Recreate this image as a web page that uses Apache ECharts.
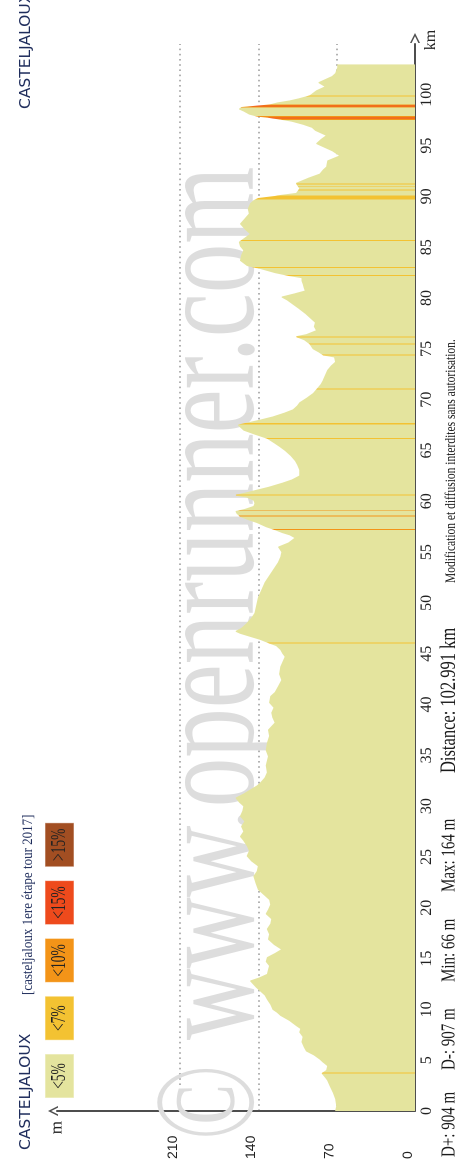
<!DOCTYPE html>
<html><head><meta charset="utf-8">
<script src="https://cdn.jsdelivr.net/npm/echarts@6/dist/echarts.min.js"></script>
<style>
html,body{margin:0;padding:0;background:#fff;overflow:hidden;width:471px;height:1162px;}
#wrap{position:absolute;left:0;top:0;width:1162px;height:471px;transform-origin:0 0;transform:translate(0,1162px) rotate(-90deg);}
#chart{width:1162px;height:471px;}
</style></head><body>
<div id="wrap"><div id="chart"></div></div>
<script>
// ---- data ----
const profileKm = [0,0.5,1.2,1.8,2.5,3.0,3.3,3.7,4.0,4.45,4.8,5.1,5.5,5.9,6.3,6.8,7.3,7.75,8.1,8.4,8.9,9.4,9.7,10.0,10.5,11.0,11.4,11.7,12.2,12.8,13.1,13.45,13.9,14.3,14.7,15.1,15.5,15.9,16.4,16.9,17.4,17.9,18.4,18.9,19.4,19.8,20.3,20.8,21.3,21.8,22.4,23.1,23.6,24.1,24.6,25.1,25.6,26.1,26.6,27.0,27.5,28.0,28.5,29.0,29.5,30.0,30.4,30.8,31.2,31.6,32.0,32.3,32.8,33.3,34.0,34.9,35.5,36.2,36.9,37.5,38.2,38.7,39.2,39.7,40.2,40.8,41.2,41.8,42.4,43.0,43.7,44.2,44.7,45.0,45.4,45.8,46.0,46.4,46.7,47.0,47.2,47.5,48.0,48.5,49.0,49.5,50.0,50.5,51.0,51.5,52.0,52.5,53.0,53.5,54.0,54.5,55.0,55.5,55.9,56.4,56.7,56.9,57.2,57.5,57.9,58.2,58.5,58.8,59.0,59.2,59.5,59.8,60.1,60.4,60.6,60.8,61.1,61.4,61.8,62.1,62.5,63.1,63.6,64.0,64.5,65.0,65.4,65.7,66.2,66.6,67.0,67.5,67.7,68.0,68.3,68.7,69.0,69.4,69.7,70.2,70.6,71.1,71.5,71.9,72.4,72.9,73.3,73.7,74.2,74.4,74.7,75.0,75.5,75.9,76.2,76.4,76.8,77.2,77.6,78.0,78.5,79.0,79.4,79.8,80.1,80.4,80.7,81.0,81.4,81.7,82.0,82.2,82.5,82.9,83.2,83.7,84.2,84.7,85.1,85.5,85.9,86.3,86.8,87.3,87.8,88.3,88.8,89.3,89.6,89.8,90.0,90.1,90.3,90.6,90.8,91.1,91.3,91.8,92.2,92.6,92.9,93.5,94.0,94.5,94.9,95.2,95.6,96.0,96.5,96.8,97.1,97.4,97.6,97.8,97.9,98.1,98.4,98.6,98.75,98.9,99.0,99.2,99.4,99.6,99.9,100.4,100.8,101.2,101.5,101.8,102.1,102.4,102.7,102.991];
const profileElev = [71,70,71,73,76,78,80,83,79,78,82,85,90,97,99,101,100,103,102,106,112,120,123,127,129,132,134,137,142,147,139,132,131,130,133,132,125,119,126,131,130,132,129,128,133,131,129,130,135,140,142,144,141,140,146,150,148,150,153,156,153,155,152,156,154,153,157,160,153,147,141,138,134,132,133,131,133,132,130,131,125,127,128,126,130,129,125,122,119,121,120,118,116,118,120,124,129,138,147,156,160,155,150,146,143,142,141,140,138,136,134,131,128,125,122,120,119,122,113,107,112,118,125,133,141,149,156,159,160,152,144,143,144,150,160,152,141,130,118,110,103,103,105,107,111,116,121,125,132,143,153,158,150,138,127,116,109,105,103,96,91,87,84,82,80,78,75,71,72,82,86,91,94,99,106,97,88,90,89,93,98,104,109,114,119,108,98,99,100,101,101,112,125,138,150,156,155,153,156,157,152,147,152,156,152,148,149,147,144,140,125,120,106,104,103,105,106,95,85,82,79,78,67,74,82,88,84,79,89,92,100,110,120,132,141,148,153,157,155,140,130,123,112,104,94,88,80,86,80,74,71,70,69,69];

// grade classes (legend)
const gradeLabels = ['<5%','<7%','<10%','<15%','>15%'];
const gradeColors = ['#e4e49e','#f3c232','#f39418','#ee4a1c','#a24e22'];

// steep sections: start km, end km, grade class index
const steepStart = [3.68,46.0,57.17,58.5,59.07,60.55,66.15,67.55,71.0,74.35,75.42,76.1,82.15,82.95,85.6,89.7,90.58,90.92,91.18,97.5,97.66,97.76,98.75,98.85,98.97,99.85];
const steepEnd   = [3.78,46.12,57.27,58.6,59.15,60.65,66.25,67.68,71.1,74.45,75.52,76.22,82.25,83.05,85.72,90.1,90.66,91.0,91.26,97.66,97.76,97.9,98.85,98.97,99.05,99.95];
const steepGrade = [1,1,2,2,2,1,1,1,1,1,1,1,1,1,1,1,1,1,1,2,3,2,2,3,2,1];

// axis ticks
const kmTickStep = 5;
const kmLabelMax = 100;
const elevTicks = [0,70,140,210];

// texts
const routeName = 'CASTELJALOUX';
const routeTitle = '[casteljaloux 1ere étape tour 2017]';
const statsTexts = ['D+: 904 m','D-: 907 m','Min: 66 m','Max: 164 m','Distance: 102.991 km'];
const noticeText = 'Modification et diffusion interdites sans autorisation.';
const watermark = '© www.openrunner.com';

// ---- chart ----
const chart = echarts.init(document.getElementById('chart'), null, {width:1162, height:471, devicePixelRatio:2});
const serif = '"Liberation Serif", "DejaVu Serif", serif';
const sans = '"Liberation Sans", "DejaVu Sans", sans-serif';
const chev = 'path://M0,10 L5,0 L10,10 L8.4,10 L5,3.2 L1.6,10 Z';
const axisColor = '#4e4e4e';
const gridColor = '#b2b2b2';

const pieces = steepStart.map((s,i)=>({gte:s, lt:steepEnd[i], color:gradeColors[steepGrade[i]]}));

const graphics = [];
graphics.push({type:'text', z:1, x:22, y:215, scaleY:1.45, style:{text:watermark, x:0, y:0, font:'99px '+serif, fill:'#dddddd', align:'left', verticalAlign:'middle'}});
graphics.push({type:'text', z:10, x:12, y:26, style:{text:routeName, x:0, y:0, font:'15.5px "DejaVu Sans", sans-serif', fill:'#1f2d5c', align:'left', verticalAlign:'middle'}});
graphics.push({type:'text', z:10, x:1053, y:26, style:{text:routeName, x:0, y:0, font:'15.5px "DejaVu Sans", sans-serif', fill:'#1f2d5c', align:'left', verticalAlign:'middle'}});
graphics.push({type:'text', z:10, x:167, y:28, scaleY:1.15, style:{text:routeTitle, x:0, y:0, font:'13px '+serif, fill:'#1f2d5c', align:'left', verticalAlign:'middle'}});
gradeLabels.forEach((lab,i)=>{
  const bx = 64 + i*57.8;
  graphics.push({type:'rect', z:10, shape:{x:bx, y:45, width:44, height:29}, style:{fill:gradeColors[i], stroke:'rgba(255,255,255,0.55)', lineWidth:1}});
  graphics.push({type:'text', z:11, x:bx+22, y:59.5, scaleY:1.6, style:{text:lab, x:0, y:0, font:'13.5px '+serif, fill:'#222', align:'center', verticalAlign:'middle'}});
});
const statX = [5, 92, 180, 270, 389];
const statSize = [15, 15, 15, 15, 16.5];
statsTexts.forEach((t,i)=>{
  graphics.push({type:'text', z:10, x:statX[i], y:449, scaleY:1.35, style:{text:t, x:0, y:0, font:statSize[i]+'px '+serif, fill:'#1a1a1a', align:'left', verticalAlign:'middle'}});
});
graphics.push({type:'text', z:10, x:579, y:451, scaleY:1.3, style:{text:noticeText, x:0, y:0, font:'11.5px '+serif, fill:'#1a1a1a', align:'left', verticalAlign:'middle'}});

const option = {
  animation:false,
  backgroundColor:'#ffffff',
  grid:{left:50, right:44, top:57, bottom:56, containLabel:false},
  xAxis:{
    type:'value', min:0, max:105, interval:kmTickStep,
    name:'km', nameLocation:'end', nameGap:4,
    nameTextStyle:{fontFamily:serif, fontSize:16, color:'#222', align:'center', verticalAlign:'top', padding:[8,0,0,0]},
    axisLine:{show:true, onZero:false, lineStyle:{color:axisColor, width:2}, symbol:['none',chev], symbolSize:[10,12], symbolOffset:[0,6]},
    axisTick:{show:false}, splitLine:{show:false},
    axisLabel:{fontFamily:serif, fontSize:16, color:'#222', margin:4, formatter:v=> v<=kmLabelMax ? String(v) : ''}
  },
  yAxis:{
    type:'value', min:0, max:320, interval:70,
    name:'m', nameLocation:'end', nameGap:0,
    nameTextStyle:{fontFamily:serif, fontSize:17, color:'#222', align:'right', verticalAlign:'middle', padding:[0,10,0,0]},
    axisLine:{show:true, onZero:false, lineStyle:{color:axisColor, width:2}, symbol:['none',chev], symbolSize:[10,12], symbolOffset:[0,4]},
    axisTick:{show:false},
    splitLine:{show:true, lineStyle:{color:['rgba(0,0,0,0)',gridColor,gridColor,gridColor,'rgba(0,0,0,0)'], type:[1.6,3.6], width:2}},
    axisLabel:{fontFamily:sans, fontSize:14, color:'#222', margin:48, align:'left', verticalAlign:'bottom',
      formatter:v=> elevTicks.indexOf(v)>=0 ? String(v) : ''}
  },
  visualMap:{type:'piecewise', show:false, dimension:0, seriesIndex:0, pieces:pieces, outOfRange:{color:gradeColors[0]}},
  graphic:{elements:graphics},
  series:[{
    type:'line', data:profileKm.map((k,i)=>[k, profileElev[i]]),
    showSymbol:false, symbol:'none', z:3,
    lineStyle:{width:1}, areaStyle:{opacity:1}
  }]
};
chart.setOption(option);
</script>
</body></html>
